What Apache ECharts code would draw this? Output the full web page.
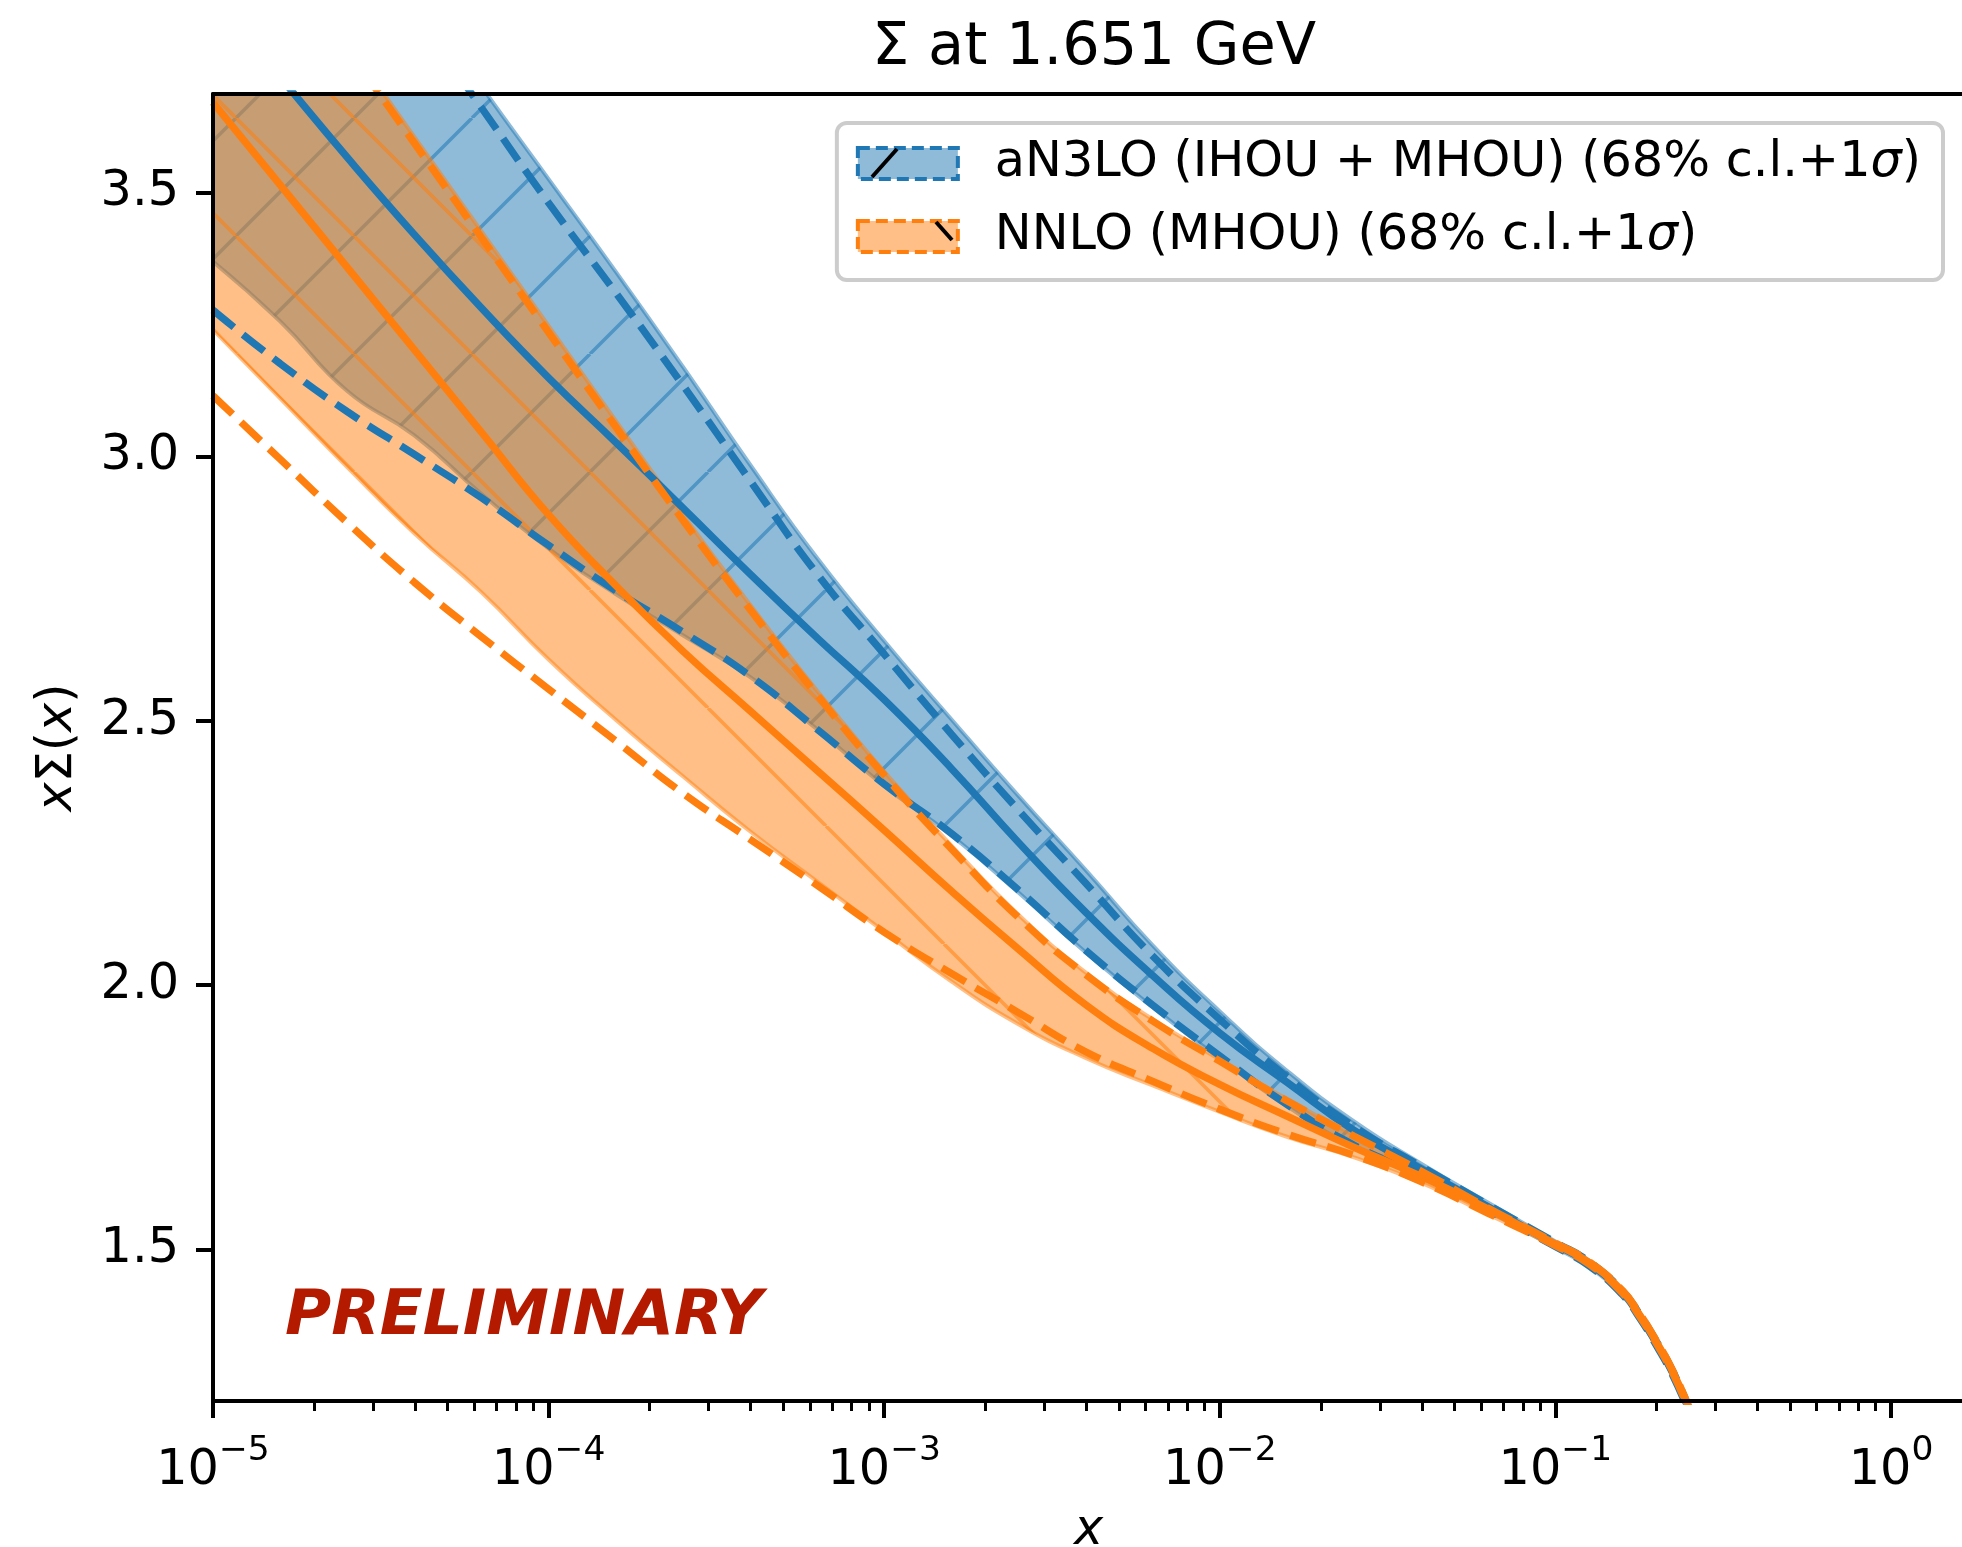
<!DOCTYPE html>
<html><head><meta charset="utf-8">
<script src="https://cdn.jsdelivr.net/npm/echarts@6/dist/echarts.min.js"></script>
<style>html,body{margin:0;padding:0;background:#fff}#c{width:1962px;height:1547px}</style>
</head><body><div id="c"></div>
<script>
// x grid (values of x)
const X = [1.0e-5, 1.585e-5, 2.512e-5, 3.981e-5, 6.310e-5, 1.0e-4, 1.585e-4, 2.512e-4, 3.981e-4, 6.310e-4,
           1.0e-3, 1.585e-3, 2.512e-3, 3.981e-3, 6.310e-3, 1.0e-2, 1.585e-2, 2.512e-2, 3.981e-2, 6.310e-2,
           0.1, 0.1259, 0.1585, 0.1778, 0.1995, 0.2239, 0.2512];

// aN3LO (IHOU + MHOU)
const n3loBandUpper = [4.42, 4.24, 4.06, 3.88, 3.70, 3.525, 3.35, 3.17, 2.985, 2.808, 2.651, 2.503, 2.358, 2.218, 2.075, 1.95, 1.838, 1.742, 1.662, 1.588, 1.515, 1.479, 1.423, 1.38, 1.329, 1.271, 1.199];
const n3loBandLower = [3.369, 3.256, 3.124, 3.04, 2.929, 2.826, 2.74, 2.662, 2.583, 2.484, 2.377, 2.283, 2.175, 2.062, 1.958, 1.861, 1.771, 1.693, 1.638, 1.572, 1.503, 1.467, 1.412, 1.369, 1.317, 1.259, 1.187];
const n3loCentral   = [3.87, 3.718, 3.566, 3.42, 3.281, 3.149, 3.027, 2.903, 2.778, 2.657, 2.54, 2.41, 2.27, 2.138, 2.018, 1.909, 1.816, 1.725, 1.652, 1.58, 1.509, 1.473, 1.418, 1.375, 1.323, 1.265, 1.193];
const n3loDashUpper = [4.38, 4.20, 4.02, 3.84, 3.66, 3.48, 3.31, 3.135, 2.955, 2.778, 2.626, 2.475, 2.331, 2.193, 2.055, 1.935, 1.826, 1.732, 1.657, 1.584, 1.513, 1.477, 1.421, 1.378, 1.327, 1.269, 1.197];
const n3loDashLower = [3.277, 3.176, 3.085, 3.004, 2.922, 2.832, 2.746, 2.668, 2.585, 2.484, 2.38, 2.287, 2.18, 2.066, 1.962, 1.866, 1.774, 1.697, 1.64, 1.574, 1.505, 1.469, 1.414, 1.371, 1.319, 1.261, 1.189];

// NNLO (MHOU)
const nnloBandUpper = [4.17, 3.962, 3.784, 3.605, 3.426, 3.247, 3.068, 2.89, 2.72, 2.557, 2.404, 2.264, 2.133, 2.024, 1.935, 1.859, 1.784, 1.716, 1.652, 1.58, 1.513, 1.478, 1.423, 1.38, 1.329, 1.271, 1.199];
const nnloBandLower = [3.24, 3.11, 2.98, 2.855, 2.743, 2.616, 2.502, 2.395, 2.291, 2.196, 2.101, 2.007, 1.926, 1.862, 1.81, 1.76, 1.713, 1.674, 1.626, 1.566, 1.505, 1.47, 1.415, 1.372, 1.321, 1.263, 1.191];
const nnloCentral   = [3.67, 3.514, 3.358, 3.202, 3.046, 2.89, 2.756, 2.632, 2.519, 2.406, 2.293, 2.178, 2.068, 1.963, 1.88, 1.812, 1.752, 1.693, 1.638, 1.576, 1.51, 1.475, 1.42, 1.377, 1.326, 1.268, 1.196];
const nnloDashUpper = [4.157, 3.95, 3.772, 3.593, 3.414, 3.235, 3.056, 2.88, 2.711, 2.549, 2.397, 2.258, 2.128, 2.02, 1.932, 1.856, 1.781, 1.714, 1.648, 1.578, 1.512, 1.477, 1.422, 1.379, 1.328, 1.27, 1.198];
const nnloDashLower = [3.115, 2.995, 2.875, 2.762, 2.659, 2.56, 2.462, 2.363, 2.276, 2.189, 2.10, 2.022, 1.948, 1.874, 1.818, 1.765, 1.718, 1.678, 1.628, 1.568, 1.507, 1.472, 1.417, 1.374, 1.323, 1.265, 1.193];

// ticks
const xTickValues = [1e-5, 1e-4, 1e-3, 1e-2, 1e-1, 1];
const xMinorTickValues = [2e-5,3e-5,4e-5,5e-5,6e-5,7e-5,8e-5,9e-5,
  2e-4,3e-4,4e-4,5e-4,6e-4,7e-4,8e-4,9e-4,
  2e-3,3e-3,4e-3,5e-3,6e-3,7e-3,8e-3,9e-3,
  2e-2,3e-2,4e-2,5e-2,6e-2,7e-2,8e-2,9e-2,
  0.2,0.3,0.4,0.5,0.6,0.7,0.8,0.9];
const yTickValues = [1.5, 2.0, 2.5, 3.0, 3.5];

const NAME_N3LO = 'aN3LO (IHOU + MHOU) (68% c.l.+1σ)';
const NAME_NNLO = 'NNLO (MHOU) (68% c.l.+1σ)';
const BLUE = '#1f77b4', ORANGE = '#ff7f0e';
const FONT = 'DejaVu Sans';
const FS = 49.3;
const SMOOTH = 0.5;

function makeHatch(dir, color, s, lw) {
  const c = document.createElement('canvas');
  c.width = s; c.height = s;
  const g = c.getContext('2d');
  g.strokeStyle = color; g.lineWidth = lw; g.lineCap = 'butt';
  g.beginPath();
  for (let k = -1; k <= 1; k++) {
    if (dir === '/') { g.moveTo(k * s, s); g.lineTo(k * s + s, 0); }
    else { g.moveTo(k * s, 0); g.lineTo(k * s + s, s); }
  }
  g.stroke();
  return c;
}
const blueHatch = makeHatch('/', 'rgba(31,119,180,0.55)', 118, 3.5);
const orangeHatch = makeHatch('\\', 'rgba(255,127,14,0.55)', 118, 3.5);

// bezier path through pixel points, same smoothing rule as the line series
function smoothCmds(pts, smooth, first) {
  let d = '', prevX, prevY, cpx0, cpy0;
  const n = pts.length;
  for (let k = 0; k < n; k++) {
    const x = pts[k][0], y = pts[k][1];
    if (k === 0) { d += (first ? 'M' : 'L') + x + ' ' + y; cpx0 = x; cpy0 = y; }
    else {
      let cpx1, cpy1, ncx = x, ncy = y;
      if (k === n - 1) { cpx1 = x; cpy1 = y; }
      else {
        const nx = pts[k + 1][0], ny = pts[k + 1][1];
        let vx = nx - prevX, vy = ny - prevY;
        const dx0 = x - prevX, dy0 = y - prevY, dx1 = nx - x, dy1 = ny - y;
        const l0 = Math.sqrt(dx0 * dx0 + dy0 * dy0), l1 = Math.sqrt(dx1 * dx1 + dy1 * dy1);
        const r = l1 / (l1 + l0);
        ncx = x + vx * smooth * r; ncy = y + vy * smooth * r;
        ncx = Math.min(ncx, Math.max(nx, x)); ncy = Math.min(ncy, Math.max(ny, y));
        ncx = Math.max(ncx, Math.min(nx, x)); ncy = Math.max(ncy, Math.min(ny, y));
        vx = ncx - x; vy = ncy - y;
        cpx1 = x - vx * l0 / l1; cpy1 = y - vy * l0 / l1;
        cpx1 = Math.min(cpx1, Math.max(prevX, x)); cpy1 = Math.min(cpy1, Math.max(prevY, y));
        cpx1 = Math.max(cpx1, Math.min(prevX, x)); cpy1 = Math.max(cpy1, Math.min(prevY, y));
        vx = x - cpx1; vy = y - cpy1;
        ncx = x + vx * l1 / l0; ncy = y + vy * l1 / l0;
      }
      d += ' C' + cpx0 + ' ' + cpy0 + ' ' + cpx1 + ' ' + cpy1 + ' ' + x + ' ' + y;
      cpx0 = ncx; cpy0 = ncy;
    }
    prevX = x; prevY = y;
  }
  return d;
}

function bandSeries(name, up, lo, fill, edge, pattern, z) {
  return {
    type: 'custom', name, z, clip: true, silent: true,
    xAxisIndex: 0, yAxisIndex: 0,
    data: X.map((x, i) => [x, lo[i], up[i]]),
    encode: { x: 0, y: [1, 2] },
    itemStyle: { color: fill },
    renderItem: (params, api) => {
      if (params.dataIndex !== 0) return null;
      const upper = X.map((x, i) => api.coord([x, up[i]]));
      const lower = X.map((x, i) => api.coord([x, lo[i]])).reverse();
      const d = smoothCmds(upper, SMOOTH, true) + ' ' + smoothCmds(lower, SMOOTH, false) + ' Z';
      return { type: 'group', children: [
        { type: 'path', shape: { pathData: d }, style: { fill: fill, stroke: null } },
        { type: 'path', shape: { pathData: d }, style: { fill: { image: pattern, repeat: 'repeat' }, stroke: null } },
        { type: 'path', shape: { pathData: d }, style: { fill: 'none', stroke: edge, lineWidth: 4 } }
      ]};
    }
  };
}
function lineSeries(ys, color, dashed, z) {
  return {
    type: 'line', data: X.map((x, i) => [x, ys[i]]), xAxisIndex: 0, yAxisIndex: 0,
    showSymbol: false, symbol: 'none', silent: true, z, clip: true, smooth: SMOOTH,
    lineStyle: { color, width: 7.3, type: dashed ? [27, 11.7] : 'solid', cap: 'butt' }
  };
}

const supRich = {
  b: { fontFamily: FONT, fontSize: FS, lineHeight: 62, color: '#000', verticalAlign: 'bottom' },
  s: { fontFamily: FONT, fontSize: 34.5, lineHeight: 34, color: '#000', verticalAlign: 'top' }
};

const chart = echarts.init(document.getElementById('c'), null, { renderer: 'canvas', width: 1962, height: 1547 });
chart.setOption({
  animation: false,
  backgroundColor: '#fff',
  title: {
    text: 'Σ at 1.651 GeV', left: 1089, top: 14, textAlign: 'center',
    textStyle: { fontFamily: FONT, fontSize: 59, fontWeight: 'normal', color: '#000' }
  },
  grid: { left: 213, top: 94, width: 1751, height: 1307, containLabel: false, outerBoundsMode: 'none', show: false },
  legend: {
    orient: 'vertical', right: 19, top: 123,
    padding: [16, 22, 19, 19], itemGap: 24, itemWidth: 100, itemHeight: 31,
    backgroundColor: 'rgba(255,255,255,0.8)', borderColor: '#cccccc', borderWidth: 4, borderRadius: 10,
    selectedMode: false,
    data: [
      { name: NAME_N3LO, icon: 'rect', itemStyle: { color: 'rgba(31,119,180,0.5)', borderColor: BLUE, borderWidth: 4, borderType: [12, 6] } },
      { name: NAME_NNLO, icon: 'rect', itemStyle: { color: 'rgba(255,127,14,0.5)', borderColor: ORANGE, borderWidth: 4, borderType: [12, 6] } }
    ],
    formatter: name => '{n|' + name.replace('σ', '}{i|σ}{n|') + '}',
    textStyle: {
      padding: [0, 0, 0, 32],
      rich: {
        n: { fontFamily: FONT, fontSize: FS, lineHeight: 50, color: '#000' },
        i: { fontFamily: FONT, fontSize: FS, lineHeight: 50, fontStyle: 'italic', color: '#000' }
      }
    }
  },
  xAxis: [
    {
      type: 'log', logBase: 10, min: 1e-5, max: 1.65, position: 'bottom', z: 10,
      axisLine: { show: true, onZero: false, lineStyle: { color: '#000', width: 4 } },
      axisTick: { show: true, customValues: xTickValues, length: 17, lineStyle: { color: '#000', width: 4 } },
      axisLabel: {
        show: true, customValues: xTickValues, margin: 33,
        formatter: v => { const e = Math.round(Math.log10(v)); return '{b|10}{s|' + (e < 0 ? '−' + (-e) : e) + '}'; },
        rich: supRich
      },
      splitLine: { show: false }, minorTick: { show: false },
      name: '{i|x}', nameLocation: 'middle', nameGap: 106,
      nameTextStyle: { rich: { i: { fontFamily: FONT, fontSize: FS, fontStyle: 'italic', color: '#000' } } }
    },
    {
      type: 'log', logBase: 10, min: 1e-5, max: 1.65, position: 'bottom', z: 10,
      axisLine: { show: false },
      axisTick: { show: true, customValues: xMinorTickValues, length: 10, lineStyle: { color: '#000', width: 3 } },
      axisLabel: { show: false }, splitLine: { show: false }
    },
    {
      type: 'log', logBase: 10, min: 1e-5, max: 1.65, position: 'top', z: 10,
      axisLine: { show: true, onZero: false, lineStyle: { color: '#000', width: 4 } },
      axisTick: { show: false }, axisLabel: { show: false }, splitLine: { show: false }
    }
  ],
  yAxis: {
    type: 'value', min: 1.213, max: 3.686, z: 10,
    axisLine: { show: true, onZero: false, lineStyle: { color: '#000', width: 4 } },
    axisTick: { show: true, customValues: yTickValues, length: 17, lineStyle: { color: '#000', width: 4 } },
    axisLabel: { show: true, customValues: yTickValues, margin: 34, formatter: v => v.toFixed(1),
      fontFamily: FONT, fontSize: FS, color: '#000', padding: [10, 0, 0, 0] },
    splitLine: { show: false },
    name: '{i|x}{n|Σ(}{i|x}{n|)}', nameLocation: 'middle', nameGap: 130, nameRotate: 90,
    nameTextStyle: { rich: {
      i: { fontFamily: FONT, fontSize: FS, fontStyle: 'italic', color: '#000' },
      n: { fontFamily: FONT, fontSize: FS, color: '#000' } } }
  },
  graphic: [
    { type: 'text', left: 285, top: 1286, z: 50,
      style: { text: 'PRELIMINARY', font: 'italic bold 63px "DejaVu Sans"', fill: '#b41a00' } },
    { type: 'line', z: 100, shape: { x1: 872, y1: 177, x2: 897, y2: 149 }, style: { stroke: '#000', lineWidth: 4 } },
    { type: 'line', z: 100, shape: { x1: 936, y1: 222, x2: 952, y2: 240 }, style: { stroke: '#000', lineWidth: 4 } }
  ],
  series: [
    bandSeries(NAME_N3LO, n3loBandUpper, n3loBandLower, 'rgba(31,119,180,0.5)', 'rgba(31,119,180,0.5)', blueHatch, 1),
    bandSeries(NAME_NNLO, nnloBandUpper, nnloBandLower, 'rgba(255,127,14,0.5)', 'rgba(255,127,14,0.5)', orangeHatch, 2),
    lineSeries(n3loCentral, BLUE, false, 3),
    lineSeries(n3loDashUpper, BLUE, true, 3),
    lineSeries(n3loDashLower, BLUE, true, 3),
    lineSeries(nnloCentral, ORANGE, false, 4),
    lineSeries(nnloDashUpper, ORANGE, true, 4),
    lineSeries(nnloDashLower, ORANGE, true, 4)
  ]
});
</script></body></html>
